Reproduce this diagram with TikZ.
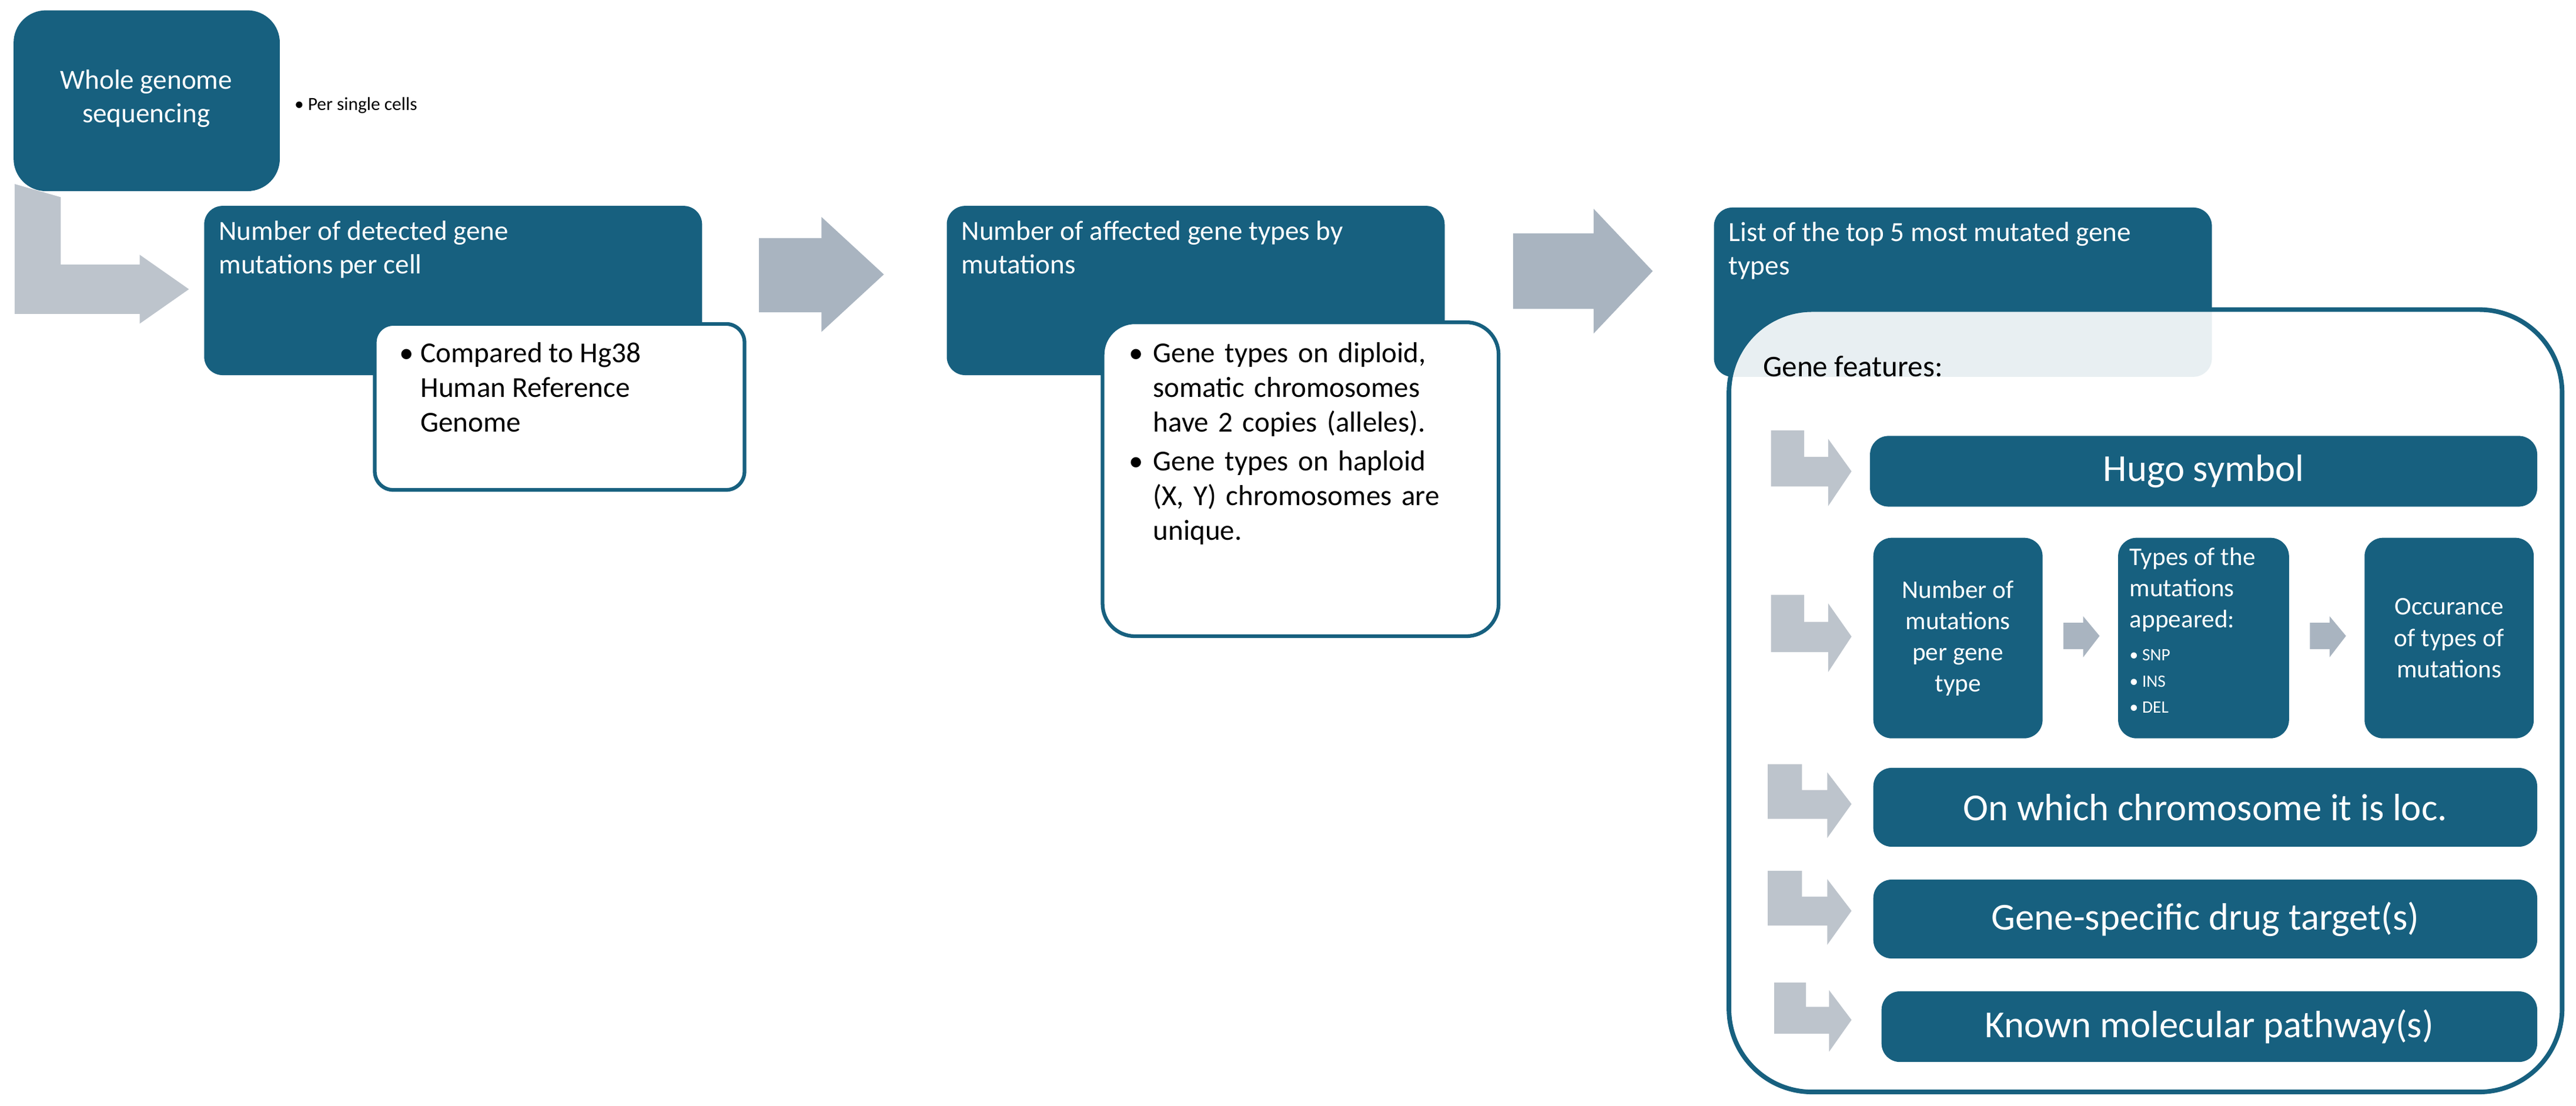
\documentclass[tikz,border=0pt]{standalone}
\usepackage{fontspec}
\setmainfont{Carlito}
\usetikzlibrary{positioning}
\definecolor{teal}{HTML}{17607F}
\definecolor{arrgrey}{HTML}{BDC4CC}
\definecolor{arrdark}{HTML}{A9B4C0}
\tikzset{
  box/.style={fill=teal, draw=none, rounded corners=8pt, inner sep=0pt},
  note/.style={fill=white, draw=teal, line width=1.6pt, rounded corners=8pt, inner sep=0pt},
  btext/.style={text=white, font=\fontsize{12}{14.5}\selectfont, inner sep=0pt},
  ntext/.style={text=black, font=\fontsize{12.5}{15}\selectfont, inner sep=0pt},
  feat/.style={text=white, font=\fontsize{16.5}{19}\selectfont, inner sep=0pt},
  small/.style={text=white, font=\fontsize{11}{13.5}\selectfont, inner sep=0pt, align=center},
  bent/.pic={\fill[arrgrey] (0,0) -- (0.41,0) -- (0.41,0.35) -- (0.71,0.35) -- (0.71,0.11)
    -- (1,0.54) -- (0.71,1) -- (0.71,0.74) -- (0,0.74) -- cycle;}
}
\begin{document}
\begin{tikzpicture}[x=0.025cm, y=-0.025cm]
  \useasboundingbox (0,0) rectangle (1568,673);

  % first step
  \node[box, rounded corners=14pt, minimum width=4.05cm, minimum height=2.75cm, anchor=north west] (wgs) at (8,6) {};
  \node[btext, align=center] (wgst) at (89,60) {Whole genome\\sequencing};
  \node[anchor=west, font=\fontsize{8}{10}\selectfont, inner sep=0pt] (cells) at (179,64) {\textbullet\ Per single cells};
  \fill[arrgrey] (9,112) -- (37,120) -- (37,161) -- (85,161) -- (85,155) -- (115,176)
    -- (85,197) -- (85,191) -- (9,191) -- cycle;

  % detected mutations
  \node[box, minimum width=7.575cm, minimum height=2.575cm, anchor=north west] (det) at (124,125) {};
  \node[btext, anchor=north west, align=left] (dett) at (133,134) {Number of detected gene\\mutations per cell};
  \node[note, minimum width=5.625cm, minimum height=2.525cm, anchor=north west] (ref) at (227,196) {};
  \node[ntext, anchor=north west, align=left] (reft) at (243,208) {\textbullet\ Compared to Hg38\\\phantom{\textbullet\ }Human Reference\\\phantom{\textbullet\ }Genome};

  \fill[arrdark] (462,145) -- (500,145) -- (500,132) -- (538,167) -- (500,202) -- (500,190) -- (462,190) -- cycle;

  % affected gene types
  \node[box, minimum width=7.575cm, minimum height=2.575cm, anchor=north west] (aff) at (576,125) {};
  \node[btext, anchor=north west, align=left] (afft) at (585,134) {Number of affected gene types by\\mutations};
  \node[note, rounded corners=14pt, minimum width=6.025cm, minimum height=4.775cm, anchor=north west] (dip) at (670,195) {};
  \node[ntext, anchor=north west, align=left, text width=5.3cm] (dipt) at (687,208)
    {\textbullet\ Gene types on diploid,\\\phantom{\textbullet\ }somatic chromosomes\\\phantom{\textbullet\ }have 2 copies (alleles).\\[2pt]
     \textbullet\ Gene types on haploid\\\phantom{\textbullet\ }(X, Y) chromosomes are\\\phantom{\textbullet\ }unique.};

  \fill[arrdark] (921,142) -- (970,142) -- (970,127) -- (1006,165) -- (970,203) -- (970,188) -- (921,188) -- cycle;

  % top 5 list
  \node[box, minimum width=7.575cm, minimum height=2.575cm, anchor=north west] (top) at (1043,126) {};
  \node[btext, anchor=north west, align=left] (topt) at (1052,135) {List of the top 5 most mutated gene\\types};
  \node[draw=teal, line width=2pt, fill=white, fill opacity=0.9, rounded corners=36pt,
    minimum width=12.675cm, minimum height=11.9cm, anchor=north west, inner sep=0pt] (feats) at (1051,187) {};
  \node[ntext, anchor=west, font=\fontsize{13}{15}\selectfont] (featt) at (1073,223) {Gene features:};

  % feature rows
  \pic[xscale=49, yscale=46] at (1078,262) {bent};
  \node[box, minimum width=10.15cm, minimum height=1.075cm, anchor=north west] (hugo) at (1138,265) {};
  \node[feat] at (hugo.center) {Hugo symbol};

  \pic[xscale=49, yscale=47] at (1078,362) {bent};
  \node[box, minimum width=2.575cm, minimum height=3.05cm, anchor=north west] (num) at (1140,327) {};
  \node[small] at (num.center) {Number of\\mutations\\per gene\\type};
  \node[box, minimum width=2.6cm, minimum height=3.05cm, anchor=north west] (typ) at (1289,327) {};
  \node[small, anchor=north west, align=left] (typt) at (1296,333) {Types of the\\mutations\\appeared:};
  \node[anchor=north west, text=white, inner sep=0pt, align=left, font=\fontsize{7.5}{11.3}\selectfont] (typb) at (1296,395)
    {\textbullet\ SNP\\\textbullet\ INS\\\textbullet\ DEL};
  \node[box, minimum width=2.575cm, minimum height=3.05cm, anchor=north west] (occ) at (1439,327) {};
  \node[small] at (occ.center) {Occurance\\of types of\\mutations};
  \fill[arrdark] (1256,379) -- (1268,379) -- (1268,375) -- (1278,387) -- (1268,400) -- (1268,395) -- (1256,395) -- cycle;
  \fill[arrdark] (1406,379) -- (1418,379) -- (1418,375) -- (1428,387) -- (1418,400) -- (1418,395) -- (1406,395) -- cycle;

  \pic[xscale=51, yscale=45] at (1076,465) {bent};
  \node[box, minimum width=10.1cm, minimum height=1.2cm, anchor=north west] (chr) at (1140,467) {};
  \node[feat] at (chr.center) {On which chromosome it is loc.};

  \pic[xscale=51, yscale=45] at (1076,530) {bent};
  \node[box, minimum width=10.1cm, minimum height=1.2cm, anchor=north west] (drug) at (1140,535) {};
  \node[feat] at (drug.center) {Gene-specific drug target(s)};

  \pic[xscale=47, yscale=42] at (1080,598) {bent};
  \node[box, minimum width=9.975cm, minimum height=1.075cm, anchor=north west] (path) at (1145,603) {};
  \node[feat] at (path.center) {Known molecular pathway(s)};
\end{tikzpicture}
\end{document}
